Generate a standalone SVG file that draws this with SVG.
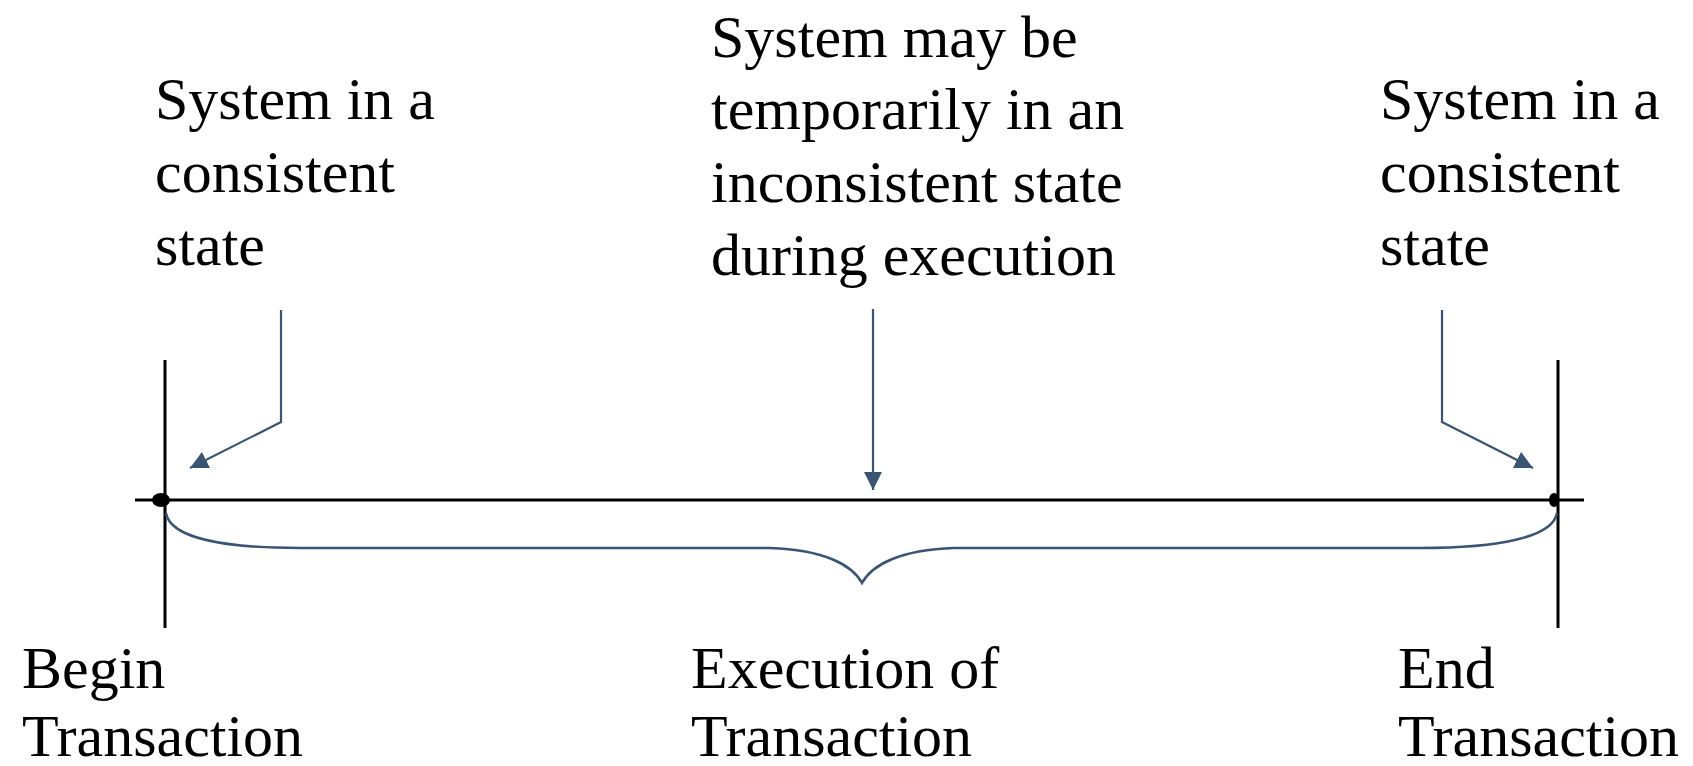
<svg xmlns="http://www.w3.org/2000/svg" width="1693" height="766" viewBox="0 0 1693 766">
  <style>
    .label { font-family: "Liberation Serif", "Times New Roman", serif; font-size: 60px; fill: #000; }
    .axis { stroke: #000; stroke-width: 3; fill: none; }
    .pointer { stroke: #3a5473; stroke-width: 2.2; fill: none; }
    .brace { stroke: #3a5473; stroke-width: 2.5; fill: none; }
  </style>
  <defs>
    <marker id="head" viewBox="0 0 18 18" refX="18" refY="9" markerWidth="18" markerHeight="18" markerUnits="userSpaceOnUse" orient="auto">
      <path d="M0,0 L18,9 L0,18 Z" fill="#3a5473"/>
    </marker>
  </defs>
  <rect width="1693" height="766" fill="#fff"/>

  <!-- timeline: axis, boundaries and end points -->
  <g id="timeline">
    <line class="axis" x1="135" y1="500" x2="1584" y2="500"/>
    <line class="axis" x1="165" y1="360" x2="165" y2="628"/>
    <line class="axis" x1="1558" y1="360" x2="1558" y2="628"/>
    <ellipse cx="161" cy="500" rx="9" ry="7" fill="#000"/>
    <ellipse cx="1554" cy="500" rx="5" ry="7" fill="#000"/>
  </g>

  <!-- connectors -->
  <g id="connectors">
    <polyline class="pointer" points="281,310 281,422 190,468" marker-end="url(#head)"/>
    <line class="pointer" x1="873" y1="309" x2="873" y2="490" marker-end="url(#head)"/>
    <polyline class="pointer" points="1442,310 1442,422 1533,468" marker-end="url(#head)"/>
    <path class="brace" d="M166,513 C170,537 220,548 300,548 L770,548 C825,550 852,565 862,583 C872,565 899,550 954,548 L1420,548 C1500,548 1553,537 1557,513"/>
  </g>

  <g id="start-state">
    <text class="label" x="155" y="119">System in a</text>
    <text class="label" x="155" y="192">consistent</text>
    <text class="label" x="155" y="265">state</text>
  </g>

  <g id="middle-state">
    <text class="label" x="711" y="57">System may be</text>
    <text class="label" x="711" y="129">temporarily in an</text>
    <text class="label" x="711" y="202">inconsistent state</text>
    <text class="label" x="711" y="275">during execution</text>
  </g>

  <g id="end-state">
    <text class="label" x="1380" y="119">System in a</text>
    <text class="label" x="1380" y="192">consistent</text>
    <text class="label" x="1380" y="265">state</text>
  </g>

  <g id="begin-transaction">
    <text class="label" x="22" y="688">Begin</text>
    <text class="label" x="22" y="756">Transaction</text>
  </g>

  <g id="execution-of-transaction">
    <text class="label" x="691" y="688">Execution of</text>
    <text class="label" x="691" y="756">Transaction</text>
  </g>

  <g id="end-transaction">
    <text class="label" x="1398" y="688">End</text>
    <text class="label" x="1398" y="756">Transaction</text>
  </g>
</svg>
